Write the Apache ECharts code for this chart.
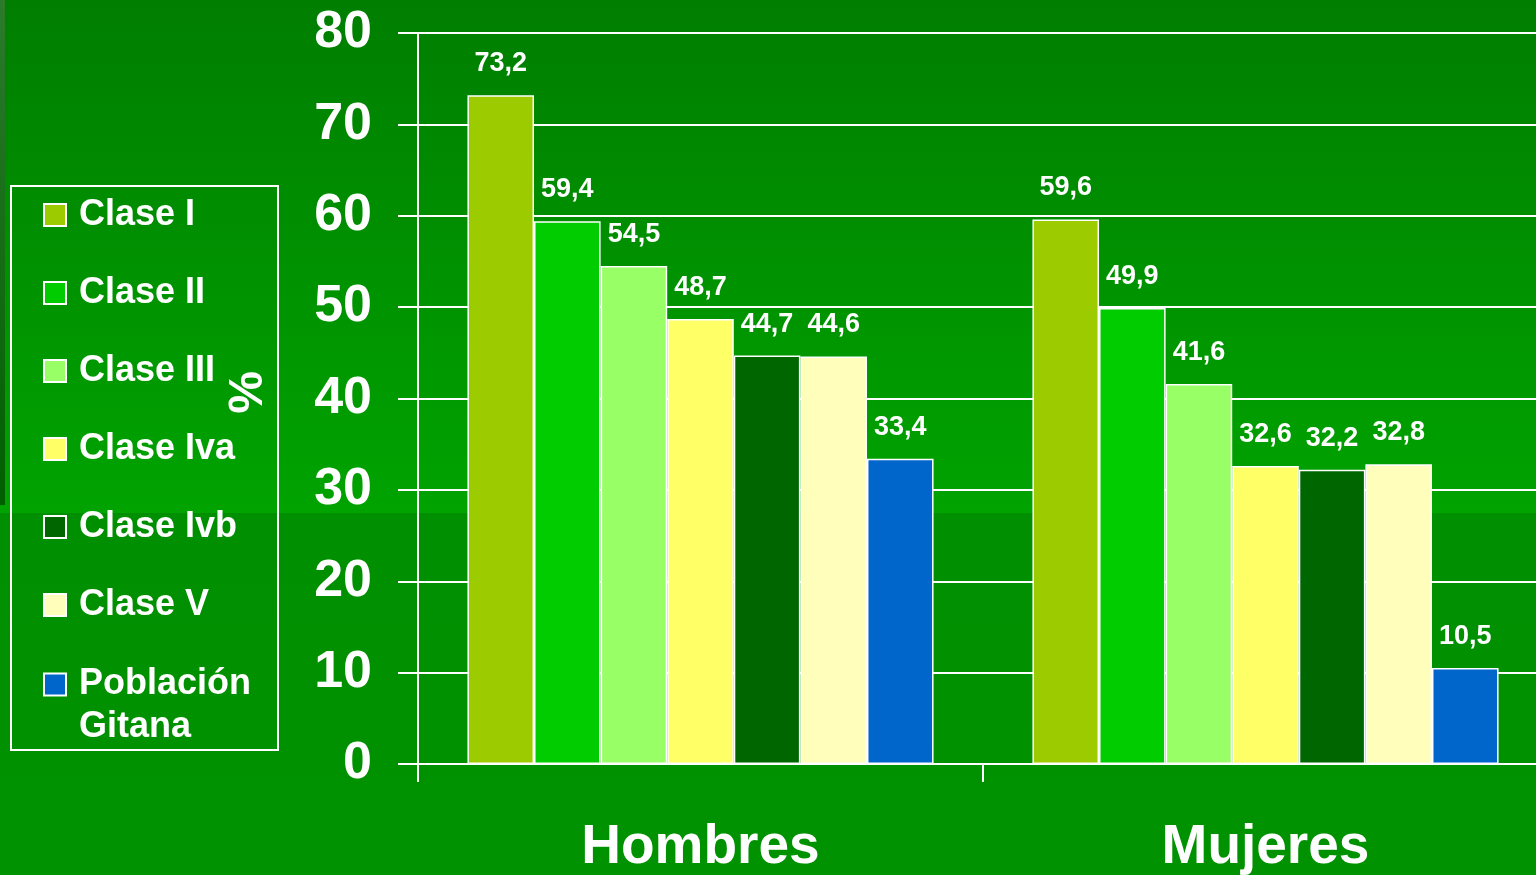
<!DOCTYPE html>
<html>
<head>
<meta charset="utf-8">
<script src="https://cdn.jsdelivr.net/npm/echarts@6/dist/echarts.min.js"></script>
<style>
html,body{margin:0;padding:0;width:1536px;height:875px;overflow:hidden;}
#chart{width:1548px;height:875px;}
</style>
</head>
<body>
<div id="chart"></div>
<script>
const categories = ['Hombres', 'Mujeres'];
const seriesNames = ['Clase I', 'Clase II', 'Clase III', 'Clase Iva', 'Clase Ivb', 'Clase V', 'Población Gitana'];
const claseI = [73.2, 59.6];
const claseII = [59.4, 49.9];
const claseIII = [54.5, 41.6];
const claseIva = [48.7, 32.6];
const claseIvb = [44.7, 32.2];
const claseV = [44.6, 32.8];
const poblacionGitana = [33.4, 10.5];
const yTicks = [0, 10, 20, 30, 40, 50, 60, 70, 80];

const seriesValues = [claseI, claseII, claseIII, claseIva, claseIvb, claseV, poblacionGitana];
const colors = ['#9CCB00', '#00CC00', '#99FF66', '#FFFF66', '#006600', '#FFFFBB', '#0066CC'];
const FONT = '"Liberation Sans", Arial, sans-serif';

const chart = echarts.init(document.getElementById('chart'));

const legendText = {color: '#fff', fontSize: 36, fontWeight: 'bold', fontFamily: FONT, lineHeight: 40, padding: [0, 0, 0, 8]};

const option = {
  backgroundColor: new echarts.graphic.LinearGradient(0, 0, 0, 1, [
    {offset: 0, color: '#007E00'},
    {offset: 0.586, color: '#00A300'},
    {offset: 0.5861, color: '#008F00'},
    {offset: 1, color: '#009200'}
  ]),
  animation: false,
  graphic: [
    {type: 'rect', left: 0, top: 0, shape: {width: 5, height: 505}, z: -1,
     style: {fill: new echarts.graphic.LinearGradient(0, 0, 0, 1, [
       {offset: 0, color: '#2B7B2B'}, {offset: 1, color: '#005E00'}])}},
    {type: 'rect', shape: {x: 11, y: 186, width: 267, height: 564},
     style: {fill: 'none', stroke: '#ffffff', lineWidth: 2}}
  ],
  legend: [
    {
      orient: 'vertical', left: 43, top: 195, padding: 0,
      itemWidth: 22, itemHeight: 22, itemGap: 38, icon: 'rect',
      selectedMode: false,
      itemStyle: {borderColor: '#fff', borderWidth: 2},
      data: seriesNames.slice(0, 6),
      textStyle: legendText
    },
    {
      orient: 'vertical', left: 43, top: 620, padding: 0,
      itemWidth: 22, itemHeight: 22, icon: 'rect',
      selectedMode: false,
      itemStyle: {borderColor: '#fff', borderWidth: 2},
      data: [seriesNames[6]],
      formatter: function () { return ' \nPoblación\nGitana'; },
      textStyle: Object.assign({}, legendText, {lineHeight: 43})
    }
  ],
  grid: {left: 418, top: 33, right: 0, bottom: 109, containLabel: false},
  xAxis: {
    type: 'category',
    data: categories,
    axisLine: {show: true, lineStyle: {color: '#fff', width: 2}},
    axisTick: {show: true, length: 18, interval: 0, lineStyle: {color: '#fff', width: 2}},
    axisLabel: {color: '#fff', fontSize: 55, fontWeight: 'bold', fontFamily: FONT, margin: 56, interval: 0},
    splitLine: {show: false}
  },
  yAxis: {
    type: 'value',
    min: yTicks[0], max: yTicks[yTicks.length - 1], interval: 10,
    name: '%',
    nameLocation: 'middle',
    nameGap: 145,
    nameTextStyle: {color: '#fff', fontSize: 48, fontWeight: 'bold', fontFamily: FONT, padding: [0, 0, 0, 12]},
    axisLine: {show: true, lineStyle: {color: '#fff', width: 2}},
    axisTick: {show: true, length: 20, lineStyle: {color: '#fff', width: 2}},
    axisLabel: {color: '#fff', fontSize: 52, fontWeight: 'bold', fontFamily: FONT, margin: 46},
    splitLine: {show: true, lineStyle: {color: '#fff', width: 2}}
  },
  series: seriesNames.map(function (name, i) {
    return {
      name: name,
      type: 'bar',
      data: seriesValues[i],
      barGap: '0%',
      barCategoryGap: '17.5%',
      itemStyle: {color: colors[i], borderColor: '#fff', borderWidth: 1.5},
      label: {
        show: true, position: 'top', distance: 18,
        color: '#fff', fontSize: 27, fontWeight: 'bold', fontFamily: FONT,
        formatter: function (p) { return String(p.value).replace('.', ','); }
      }
    };
  })
};

chart.setOption(option);
</script>
</body>
</html>
